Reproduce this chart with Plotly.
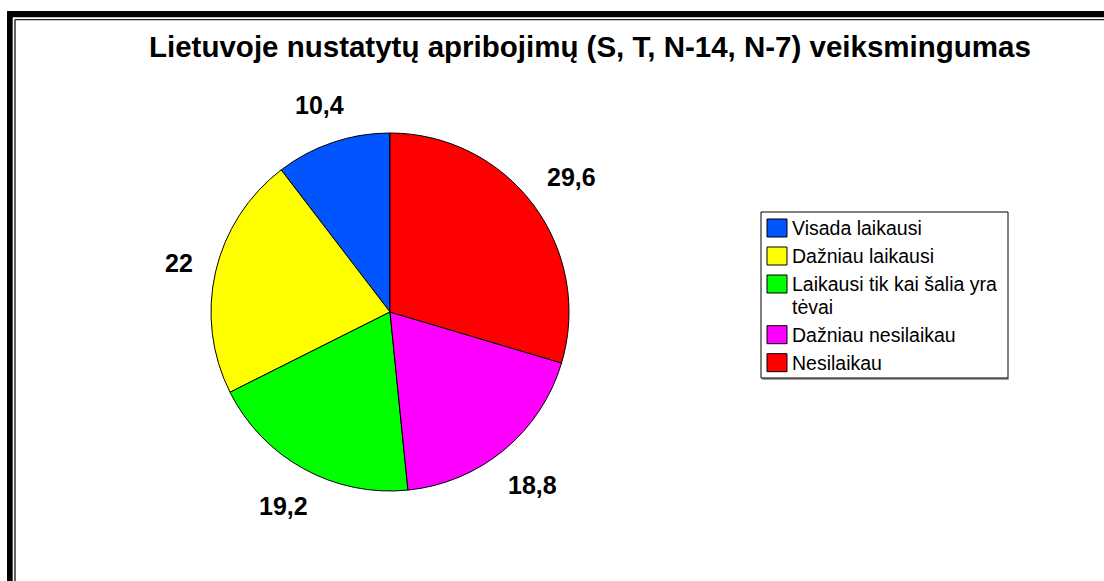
import math
import textwrap
import plotly.graph_objects as go

# ---- data ----
title_text = "Lietuvoje nustatytų apribojimų (S, T, N-14, N-7) veiksmingumas"
categories = ["Visada laikausi", "Dažniau laikausi", "Laikausi tik kai šalia yra tėvai",
              "Dažniau nesilaikau", "Nesilaikau"]
values = [10.4, 22, 19.2, 18.8, 29.6]
colors = ["#0055FF", "#FFFF00", "#00FF00", "#FF00FF", "#FF0000"]

# ---- layout constants (pixels) ----
W, H = 1104, 581
FONT = "Arial, Liberation Sans, sans-serif"
CX, CY, R = 390, 312, 179  # pie centre and radius


def px(x):
    return x / W


def py(y):
    return 1 - y / H


total = sum(values)

fig = go.Figure()
fig.add_trace(go.Pie(
    labels=categories,
    values=values,
    sort=False,
    direction="counterclockwise",
    # first slice should start at 12 o'clock and run counter-clockwise
    rotation=-360 * values[0] / total,
    marker=dict(colors=colors, line=dict(color="black", width=1)),
    textinfo="none",
    hoverinfo="label+value",
    showlegend=False,
    domain=dict(x=[px(CX - R), px(CX + R)], y=[py(CY + R), py(CY - R)]),
))

annotations = []
shapes = []

# value labels placed outside each slice, derived from the cumulative values
cum = 0.0
LBL_SIZE = 25
GAP = 22
for v in values:
    mid = (cum + v / 2) / total * 2 * math.pi  # counter-clockwise from 12 o'clock
    cum += v
    ux, uy = -math.sin(mid), -math.cos(mid)  # screen direction (y down)
    txt = f"{v:g}".replace(".", ",")
    w = sum(0.278 if c == "," else 0.556 for c in txt) * LBL_SIZE
    h = 20
    d = R + GAP + (w / 2) * abs(ux) + (h / 2) * abs(uy)
    lx, ly = CX + d * ux, CY + d * uy
    annotations.append(dict(
        x=px(lx), y=py(ly), xref="paper", yref="paper",
        text=txt, showarrow=False, xanchor="center", yanchor="middle",
        font=dict(family=FONT, size=LBL_SIZE, color="black", weight="bold"),
    ))

# title
annotations.append(dict(
    x=px(590), y=py(47), xref="paper", yref="paper", text=title_text,
    showarrow=False, xanchor="center", yanchor="middle",
    font=dict(family=FONT, size=29.5, color="black", weight="bold"),
))

# legend drawn by hand
LX0, LX1, LY0, LY1 = 761, 1008, 212, 378
shapes.append(dict(type="line", xref="paper", yref="paper",
                   x0=px(LX0 + 1), x1=px(LX1 + 1), y0=py(LY1 + 1), y1=py(LY1 + 1),
                   line=dict(color="#808080", width=1.5)))
shapes.append(dict(type="rect", xref="paper", yref="paper",
                   x0=px(LX0), x1=px(LX1), y0=py(LY1), y1=py(LY0),
                   line=dict(color="black", width=1), fillcolor="white"))
row_y = 228
ROW = 28
LINE = 22.7
for lab, col in zip(categories, colors):
    lines = textwrap.wrap(lab, width=26)
    shapes.append(dict(type="rect", xref="paper", yref="paper",
                       x0=px(767), x1=px(787), y0=py(row_y + 9), y1=py(row_y - 9),
                       line=dict(color="black", width=1), fillcolor=col))
    for k, ln in enumerate(lines):
        annotations.append(dict(
            x=px(790), y=py(row_y + k * LINE), xref="paper", yref="paper",
            text=ln, showarrow=False, xanchor="left", yanchor="middle",
            font=dict(family=FONT, size=19.5, color="black"),
        ))
    row_y += ROW + (len(lines) - 1) * LINE

# outer frame (top and left edges of a double border)
shapes.append(dict(type="rect", xref="paper", yref="paper", x0=px(7), x1=px(W),
                   y0=py(17.3), y1=py(11), line=dict(width=0), fillcolor="black"))
shapes.append(dict(type="rect", xref="paper", yref="paper", x0=px(7), x1=px(12.7),
                   y0=py(H), y1=py(11), line=dict(width=0), fillcolor="black"))
shapes.append(dict(type="line", xref="paper", yref="paper", x0=px(15), x1=px(W),
                   y0=py(19.6), y1=py(19.6), line=dict(color="#222222", width=1.4)))
shapes.append(dict(type="line", xref="paper", yref="paper", x0=px(15), x1=px(15),
                   y0=py(H), y1=py(19.6), line=dict(color="#222222", width=1.4)))

fig.update_layout(
    width=W, height=H,
    margin=dict(l=0, r=0, t=0, b=0),
    paper_bgcolor="white", plot_bgcolor="white",
    annotations=annotations, shapes=shapes,
    showlegend=False,
)

fig.write_html("out.html",
               config={"displayModeBar": False},
               post_script="document.body.style.margin='0';document.body.style.overflow='hidden';")
